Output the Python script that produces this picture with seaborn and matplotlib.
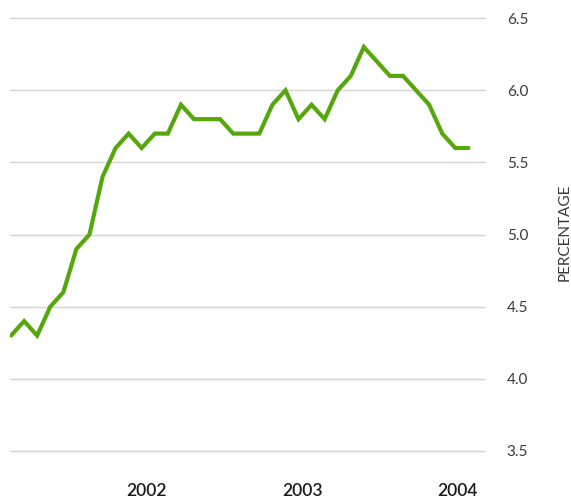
import matplotlib
matplotlib.use("Agg")
import matplotlib.pyplot as plt
import seaborn as sns
import pandas as pd

# Monthly values (Mar 2001 - Feb 2004)
months = list(range(36))
values = [4.3, 4.4, 4.3, 4.5, 4.6, 4.9, 5.0, 5.4, 5.6, 5.7, 5.6, 5.7,
          5.7, 5.9, 5.8, 5.8, 5.8, 5.7, 5.7, 5.7, 5.9, 6.0, 5.8, 5.9,
          5.8, 6.0, 6.1, 6.3, 6.2, 6.1, 6.1, 6.0, 5.9, 5.7, 5.6, 5.6]
year_labels = ["2002", "2003", "2004"]
year_positions = [10.4, 22.3, 34.2]
y_ticks = [3.5, 4.0, 4.5, 5.0, 5.5, 6.0, 6.5]

df = pd.DataFrame({"month": months, "value": values})

sns.set_theme(style="white")
plt.rcParams["font.family"] = ["Lato", "DejaVu Sans"]

fig = plt.figure(figsize=(5.71, 4.99), dpi=100)
ax = fig.add_axes([10 / 571, 0.0818, 476 / 571, 0.978 - 0.0818])

sns.lineplot(data=df, x="month", y="value", ax=ax, color="#56a70c",
             linewidth=3.0, solid_joinstyle="miter")

ax.set_xlim(-0.08, 36.35)
ax.set_ylim(3.45, 6.55)
ax.set_yticks(y_ticks)
ax.set_yticklabels([f"{v:.1f}" for v in y_ticks])
ax.yaxis.tick_right()
ax.grid(axis="y", color="#d4d4d4", linewidth=1.0)
ax.grid(axis="x", visible=False)
ax.set_axisbelow(True)
for s in ax.spines.values():
    s.set_visible(False)

ax.set_xticks(year_positions)
ax.set_xticklabels(year_labels)
ax.tick_params(axis="x", length=0, pad=18, labelsize=12.5, labelcolor="#1a1a1a")
ax.tick_params(axis="y", length=0, pad=15, labelsize=11, labelcolor="#3a3a3a")
for t in ax.get_xticklabels():
    t.set_fontweight("semibold")
for t in ax.get_yticklabels():
    t.set_fontweight("normal")
    t.set_horizontalalignment("left")

ax.set_xlabel("")
ax.set_ylabel("")
fig.text(565 / 571, 1 - 232 / 499, "PERCENTAGE", rotation=90, ha="center",
         va="center", fontsize=11, color="#3a3a3a", fontweight="normal")

fig.savefig("out.png", dpi=100, facecolor="white")
